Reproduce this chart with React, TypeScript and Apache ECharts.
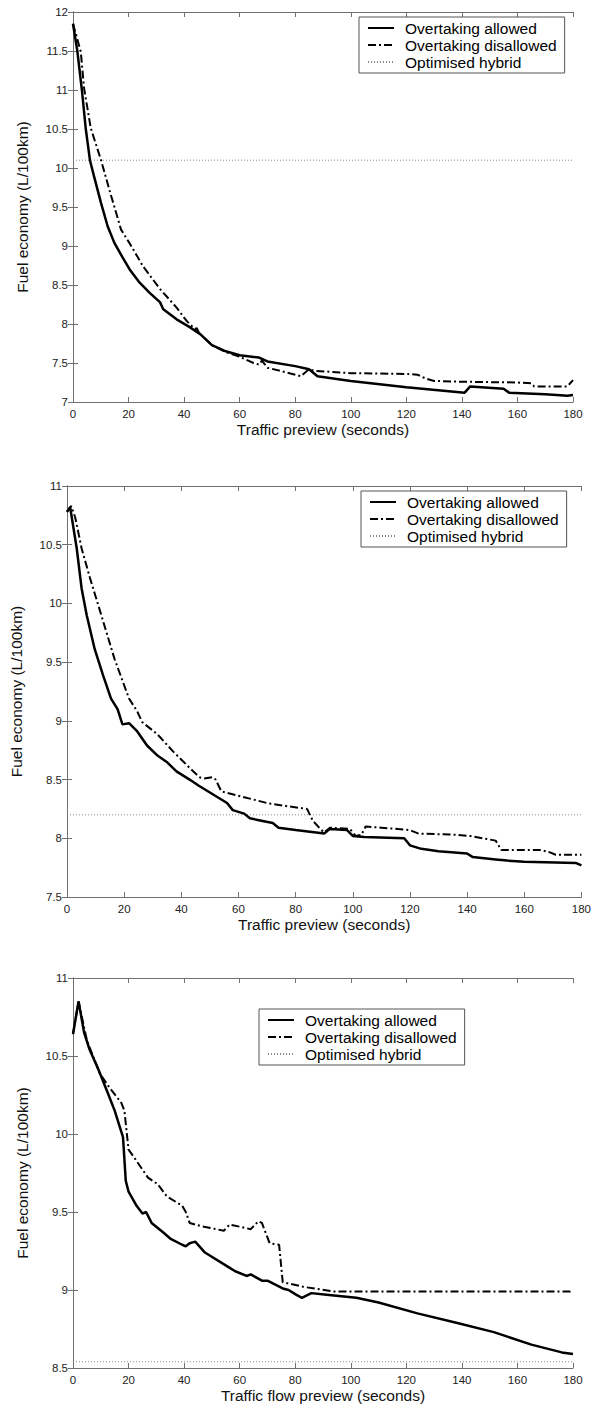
import React, { useEffect, useRef } from "react";
import * as echarts from "echarts";

// ---------- data ----------
const seriesNames = ["Overtaking allowed", "Overtaking disallowed", "Optimised hybrid"];
const xTitle1 = "Traffic preview (seconds)";
const xTitle2 = "Traffic preview (seconds)";
const xTitle3 = "Traffic flow preview (seconds)";
const yTitle = "Fuel economy (L/100km)";

// Panel 1
const p1Allowed: [number, number][] = [
  [0, 11.85], [1.6, 11.49], [3.2, 11.0], [4.6, 10.5], [6.1, 10.1], [7.6, 9.89], [10.1, 9.55], [12.5, 9.25],
  [14.9, 9.04], [17.9, 8.85], [20.4, 8.7], [24, 8.53], [27.6, 8.4], [31.3, 8.28], [32.5, 8.19], [37.3, 8.06],
  [42, 7.96], [45.8, 7.87], [50, 7.73], [55, 7.65], [60, 7.6], [67, 7.57], [70, 7.52], [80, 7.46], [85, 7.42],
  [88, 7.33], [100, 7.27], [120, 7.19], [141, 7.12], [143, 7.2], [155, 7.17], [157, 7.12], [170, 7.1],
  [178, 7.08], [180, 7.09],
];
const p1Disallowed: [number, number][] = [
  [0, 11.85], [2.8, 11.49], [4, 11.02], [6.4, 10.51], [10.1, 10.1], [13.1, 9.72], [17.3, 9.21], [20.3, 9.04],
  [25.2, 8.74], [31.3, 8.45], [37.3, 8.21], [40.9, 8.04], [44, 7.93], [44.5, 7.95], [45.5, 7.88], [50, 7.73],
  [55, 7.64], [60, 7.58], [65, 7.5], [67, 7.48], [68, 7.53], [70, 7.44], [80, 7.35], [82, 7.33], [85, 7.42],
  [87, 7.4], [100, 7.37], [120, 7.36], [124, 7.35], [127, 7.3], [130, 7.27], [140, 7.26], [160, 7.25],
  [165, 7.24], [166, 7.2], [178, 7.2], [180, 7.28],
];
const p1Hybrid = 10.1;

// Panel 2
const p2Allowed: [number, number][] = [
  [0, 10.78], [1.1, 10.82], [3.4, 10.47], [5.1, 10.13], [6.9, 9.9], [9.7, 9.61], [12.6, 9.39], [15.4, 9.19],
  [17.7, 9.1], [19.4, 8.97], [21.7, 8.98], [24.6, 8.91], [28, 8.79], [31.4, 8.71], [34.9, 8.65], [38.3, 8.57],
  [42.9, 8.5], [46, 8.45], [50, 8.39], [54, 8.33], [56, 8.3], [58, 8.24], [62, 8.21], [64, 8.17], [68, 8.15],
  [72, 8.13], [74, 8.09], [80, 8.07], [90, 8.04], [92, 8.08], [98, 8.07], [100, 8.02], [104, 8.01],
  [118, 8.0], [120, 7.94], [124, 7.91], [130, 7.89], [140, 7.87], [142, 7.84], [150, 7.82], [154, 7.81],
  [160, 7.8], [178, 7.79], [180, 7.77],
];
const p2Disallowed: [number, number][] = [
  [0, 10.78], [1.5, 10.83], [2.9, 10.73], [5.1, 10.47], [8, 10.22], [12, 9.9], [16.6, 9.53], [21.7, 9.19],
  [24.6, 9.08], [26.3, 8.99], [31.4, 8.89], [32.6, 8.86], [37.1, 8.74], [42.9, 8.6], [46.3, 8.52], [48, 8.51],
  [51, 8.52], [52, 8.5], [54, 8.4], [62, 8.35], [70, 8.3], [78, 8.27], [84, 8.25], [86, 8.15], [89, 8.07],
  [90, 8.05], [92, 8.09], [99, 8.08], [101, 8.02], [103, 8.03], [104.5, 8.1], [110, 8.09], [120, 8.07],
  [123, 8.04], [136, 8.03], [141, 8.02], [150, 7.98], [152, 7.9], [166, 7.9], [169, 7.88], [171, 7.86],
  [180, 7.86],
];
const p2Hybrid = 8.2;

// Panel 3
const p3Allowed: [number, number][] = [
  [0, 10.64], [2, 10.85], [4, 10.65], [6, 10.54], [9, 10.42], [12.6, 10.26], [15, 10.15], [18, 9.98],
  [19, 9.7], [20, 9.63], [22.9, 9.54], [25, 9.49], [26.3, 9.5], [28.3, 9.43], [32.4, 9.37], [35, 9.33],
  [39.3, 9.29], [40.6, 9.28], [42, 9.3], [44, 9.31], [47.5, 9.24], [55.7, 9.15], [58.4, 9.12], [62.5, 9.09],
  [64, 9.1], [68, 9.06], [70, 9.06], [75.5, 9.01], [77.6, 9.0], [80.3, 8.97], [82.4, 8.95], [85.8, 8.98],
  [91.3, 8.97], [102, 8.95], [110, 8.92], [124, 8.85], [138, 8.79], [151.5, 8.73], [165, 8.65], [176, 8.6],
  [180, 8.59],
];
const p3Disallowed: [number, number][] = [
  [0, 10.64], [2, 10.85], [5, 10.6], [9.6, 10.39], [13, 10.3], [17.4, 10.2], [18.5, 10.15], [20, 9.9],
  [22, 9.85], [27, 9.72], [30.4, 9.68], [33.8, 9.6], [39.3, 9.54], [40.6, 9.5], [42, 9.43], [46, 9.41],
  [54.3, 9.38], [56.4, 9.42], [64, 9.39], [66.7, 9.44], [68, 9.43], [70.8, 9.3], [74.2, 9.29], [75.5, 9.05],
  [83, 9.02], [94, 8.99], [110, 8.99], [179, 8.99], [180, 9.0],
];
const p3Hybrid = 8.54;

const xMin = 0, xMax = 180, xStep = 20;
const yRanges: [number, number, number][] = [[7, 12, 0.5], [7.5, 11, 0.5], [8.5, 11, 0.5]];

// ---------- layout ----------
const grids = [
  { left: 73, top: 12, width: 500, height: 390 },
  { left: 63, top: 486, width: 522, height: 411 },
  { left: 73, top: 978, width: 500, height: 390 },
];
const legends = [
  { left: 359, top: 17 },
  { left: 361, top: 491 },
  { left: 259, top: 1009 },
];
const xTitles = [xTitle1, xTitle2, xTitle3];
const FONT = "Liberation Sans, Arial, Helvetica, sans-serif";
const AXIS_COLOR = "#707070";

export default function App() {
  const ref = useRef<HTMLDivElement>(null);
  useEffect(() => {
    document.body.style.margin = "0";
    if (!ref.current) return;
    const chart = echarts.init(ref.current, null, { renderer: "svg" });

    const xAxis: any[] = [];
    const yAxis: any[] = [];
    const series: any[] = [];
    const panels = [
      { allowed: p1Allowed, disallowed: p1Disallowed, hybrid: p1Hybrid },
      { allowed: p2Allowed, disallowed: p2Disallowed, hybrid: p2Hybrid },
      { allowed: p3Allowed, disallowed: p3Disallowed, hybrid: p3Hybrid },
    ];

    panels.forEach((p, i) => {
      const [yMin, yMax, yStep] = yRanges[i];
      const common = {
        axisLine: { show: true, lineStyle: { color: AXIS_COLOR, width: 1 } },
        axisTick: { show: true, inside: true, length: 5, lineStyle: { color: AXIS_COLOR } },
        splitLine: { show: false },
      };
      xAxis.push({
        type: "value", gridIndex: i, position: "bottom", min: xMin, max: xMax, interval: xStep,
        ...common,
        axisLabel: { color: "#222", fontSize: 11.5, fontFamily: FONT, margin: 6 },
        name: xTitles[i], nameLocation: "middle", nameGap: 19,
        nameTextStyle: { color: "#111", fontSize: 15.5, fontFamily: FONT },
      });
      xAxis.push({
        type: "value", gridIndex: i, position: "top", min: xMin, max: xMax, interval: xStep,
        ...common, axisLabel: { show: false },
      });
      yAxis.push({
        type: "value", gridIndex: i, position: "left", min: yMin, max: yMax, interval: yStep,
        ...common,
        axisLabel: { color: "#222", fontSize: 11.5, fontFamily: FONT, margin: 5 },
        name: yTitle, nameLocation: "middle", nameGap: 43,
        nameTextStyle: { color: "#111", fontSize: 15.5, fontFamily: FONT },
      });
      yAxis.push({
        type: "value", gridIndex: i, position: "right", min: yMin, max: yMax, interval: yStep,
        ...common, axisLabel: { show: false },
      });
      const xi = i * 2, yi = i * 2;
      series.push({
        name: seriesNames[0], type: "line", xAxisIndex: xi, yAxisIndex: yi, data: p.allowed,
        symbol: "none", itemStyle: { color: "#000" },
        lineStyle: { color: "#000", width: 2.5, type: "solid" }, z: 3,
      });
      series.push({
        name: seriesNames[1], type: "line", xAxisIndex: xi, yAxisIndex: yi, data: p.disallowed,
        symbol: "none", itemStyle: { color: "#000" },
        lineStyle: { color: "#000", width: 2, type: [8, 3, 2, 3] }, z: 4,
      });
      series.push({
        name: seriesNames[2], type: "line", xAxisIndex: xi, yAxisIndex: yi,
        data: [[xMin, p.hybrid], [xMax, p.hybrid]],
        symbol: "none", itemStyle: { color: "#888" },
        lineStyle: { color: "#888", width: 1, type: [1, 2] }, z: 2,
      });
    });

    const legend = legends.map((l) => ({
      ...l,
      orient: "vertical",
      data: seriesNames,
      selectedMode: false,
      backgroundColor: "#fff",
      borderColor: "#555",
      borderWidth: 1,
      borderRadius: 0,
      padding: [3, 8, 3, 8],
      itemGap: 1,
      itemWidth: 26,
      itemHeight: 16,
      itemStyle: { opacity: 0 },
      textStyle: { color: "#000", fontSize: 15.5, fontFamily: FONT, padding: [0, 0, 0, 6] },
    }));

    chart.setOption({
      animation: false,
      backgroundColor: "#fff",
      grid: grids.map((g) => ({ ...g, containLabel: false })),
      xAxis,
      yAxis,
      legend,
      series,
    });
    return () => chart.dispose();
  }, []);
  return <div ref={ref} style={{ width: 594, height: 1412 }} />;
}
